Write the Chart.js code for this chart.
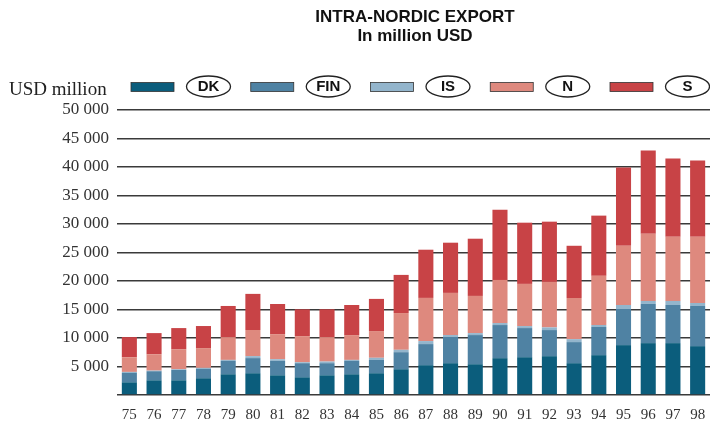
<!DOCTYPE html>
<html>
<head>
<meta charset="utf-8">
<script src="https://cdn.jsdelivr.net/npm/chart.js@4"></script>
<style>
  html, body { margin: 0; padding: 0; background: #fff; }
  #wrap { width: 710px; height: 421px; }
</style>
</head>
<body>
<div id="wrap"><canvas id="export-chart" width="710" height="421"></canvas></div>
<script>
const years = ["75", "76", "77", "78", "79", "80", "81", "82", "83", "84", "85", "86",
  "87", "88", "89", "90", "91", "92", "93", "94", "95", "96", "97", "98"];

const dk = [2230, 2580, 2580, 2940, 3640, 3820, 3460, 3110, 3460, 3640, 3820, 4520,
  5230, 5580, 5400, 6460, 6630, 6810, 5580, 6990, 8750, 9100, 9100, 8570];
const fin = [1640, 1590, 1820, 1650, 2350, 2650, 2530, 2470, 2120, 2350, 2350, 2990,
  3700, 4640, 5110, 5810, 5110, 4580, 3700, 4940, 6340, 6870, 6690, 7040];
const is = [180, 110, 120, 170, 170, 350, 290, 170, 290, 170, 360, 420,
  530, 300, 350, 350, 350, 470, 520, 350, 700, 530, 710, 530];
const n = [2580, 2880, 3520, 3470, 4000, 4580, 4400, 4580, 4290, 4350, 4690, 6450,
  7570, 7390, 6520, 7570, 7400, 7980, 7220, 8630, 10390, 11790, 11270, 11630];
const s = [3530, 3700, 3700, 3870, 5460, 6340, 5290, 4700, 4880, 5280, 5640, 6690,
  8460, 8810, 10040, 12330, 10740, 10570, 9160, 10560, 13740, 14620, 13730, 13380];

const seriesNames = ["DK", "FIN", "IS", "N", "S"];
const seriesData = [dk, fin, is, n, s];
const colors = ["#0b5d7c", "#4f82a3", "#93b5cc", "#de897e", "#c84346"];

const serif = "'Liberation Serif', 'Times New Roman', serif";
const narrow = "'Liberation Sans Narrow', 'Arial Narrow', 'Liberation Sans', sans-serif";

function formatThousands(v) {
  if (v === 0) return "";
  const str = String(v);
  return str.slice(0, str.length - 3) + " " + str.slice(-3);
}

// title, legend and the unit label are drawn by hand
const decorations = {
  id: "decorations",
  afterDraw(chart) {
    const ctx = chart.ctx;
    ctx.save();
    ctx.fillStyle = "#111";
    ctx.textAlign = "center";
    ctx.textBaseline = "middle";
    ctx.font = "bold 17px " + narrow;
    ctx.fillText("INTRA-NORDIC EXPORT", 415, 17);
    ctx.fillText("In million USD", 415, 36);

    ctx.textAlign = "left";
    ctx.font = "19px " + serif;
    ctx.fillStyle = "#222";
    ctx.fillText("USD million", 9, 90);

    seriesNames.forEach((name, i) => {
      const bx = 131 + i * 119.75;
      ctx.fillStyle = colors[i];
      ctx.fillRect(bx, 82.5, 43, 9);
      ctx.strokeStyle = "#333";
      ctx.lineWidth = 0.8;
      ctx.strokeRect(bx, 82.5, 43, 9);

      const cx = bx + 77.5;
      ctx.beginPath();
      ctx.ellipse(cx, 86.5, 22, 10.5, 0, 0, Math.PI * 2);
      ctx.lineWidth = 1.3;
      ctx.strokeStyle = "#222";
      ctx.stroke();
      ctx.fillStyle = "#111";
      ctx.textAlign = "center";
      ctx.font = "bold 15px " + narrow;
      ctx.fillText(name, cx, 87);
    });
    ctx.restore();
  }
};

new Chart(document.querySelector("#export-chart").getContext("2d"), {
  type: "bar",
  data: {
    labels: years,
    datasets: seriesNames.map((name, i) => ({
      label: name,
      data: seriesData[i],
      backgroundColor: colors[i],
      borderWidth: 0,
      barPercentage: 0.61,
      categoryPercentage: 1
    }))
  },
  options: {
    responsive: false,
    animation: false,
    layout: { padding: { top: 110, right: 0, left: 0, bottom: 0 } },
    plugins: {
      legend: { display: false },
      title: { display: false },
      tooltip: { enabled: false }
    },
    scales: {
      x: {
        stacked: true,
        grid: { display: false },
        border: { display: false },
        ticks: {
          color: "#333",
          font: { family: serif, size: 15 },
          padding: 3,
          maxRotation: 0,
          autoSkip: false
        },
        afterFit(scale) { scale.height = 26; }
      },
      y: {
        stacked: true,
        min: 0,
        max: 50000,
        grid: { color: "#3a3a3a", lineWidth: 1.6, drawTicks: false },
        border: { display: false },
        ticks: {
          stepSize: 5000,
          color: "#333",
          font: { family: serif, size: 17 },
          padding: 8,
          callback: (v) => formatThousands(v)
        },
        afterFit(scale) { scale.width = 117; }
      }
    }
  },
  plugins: [decorations]
});
</script>
</body>
</html>
